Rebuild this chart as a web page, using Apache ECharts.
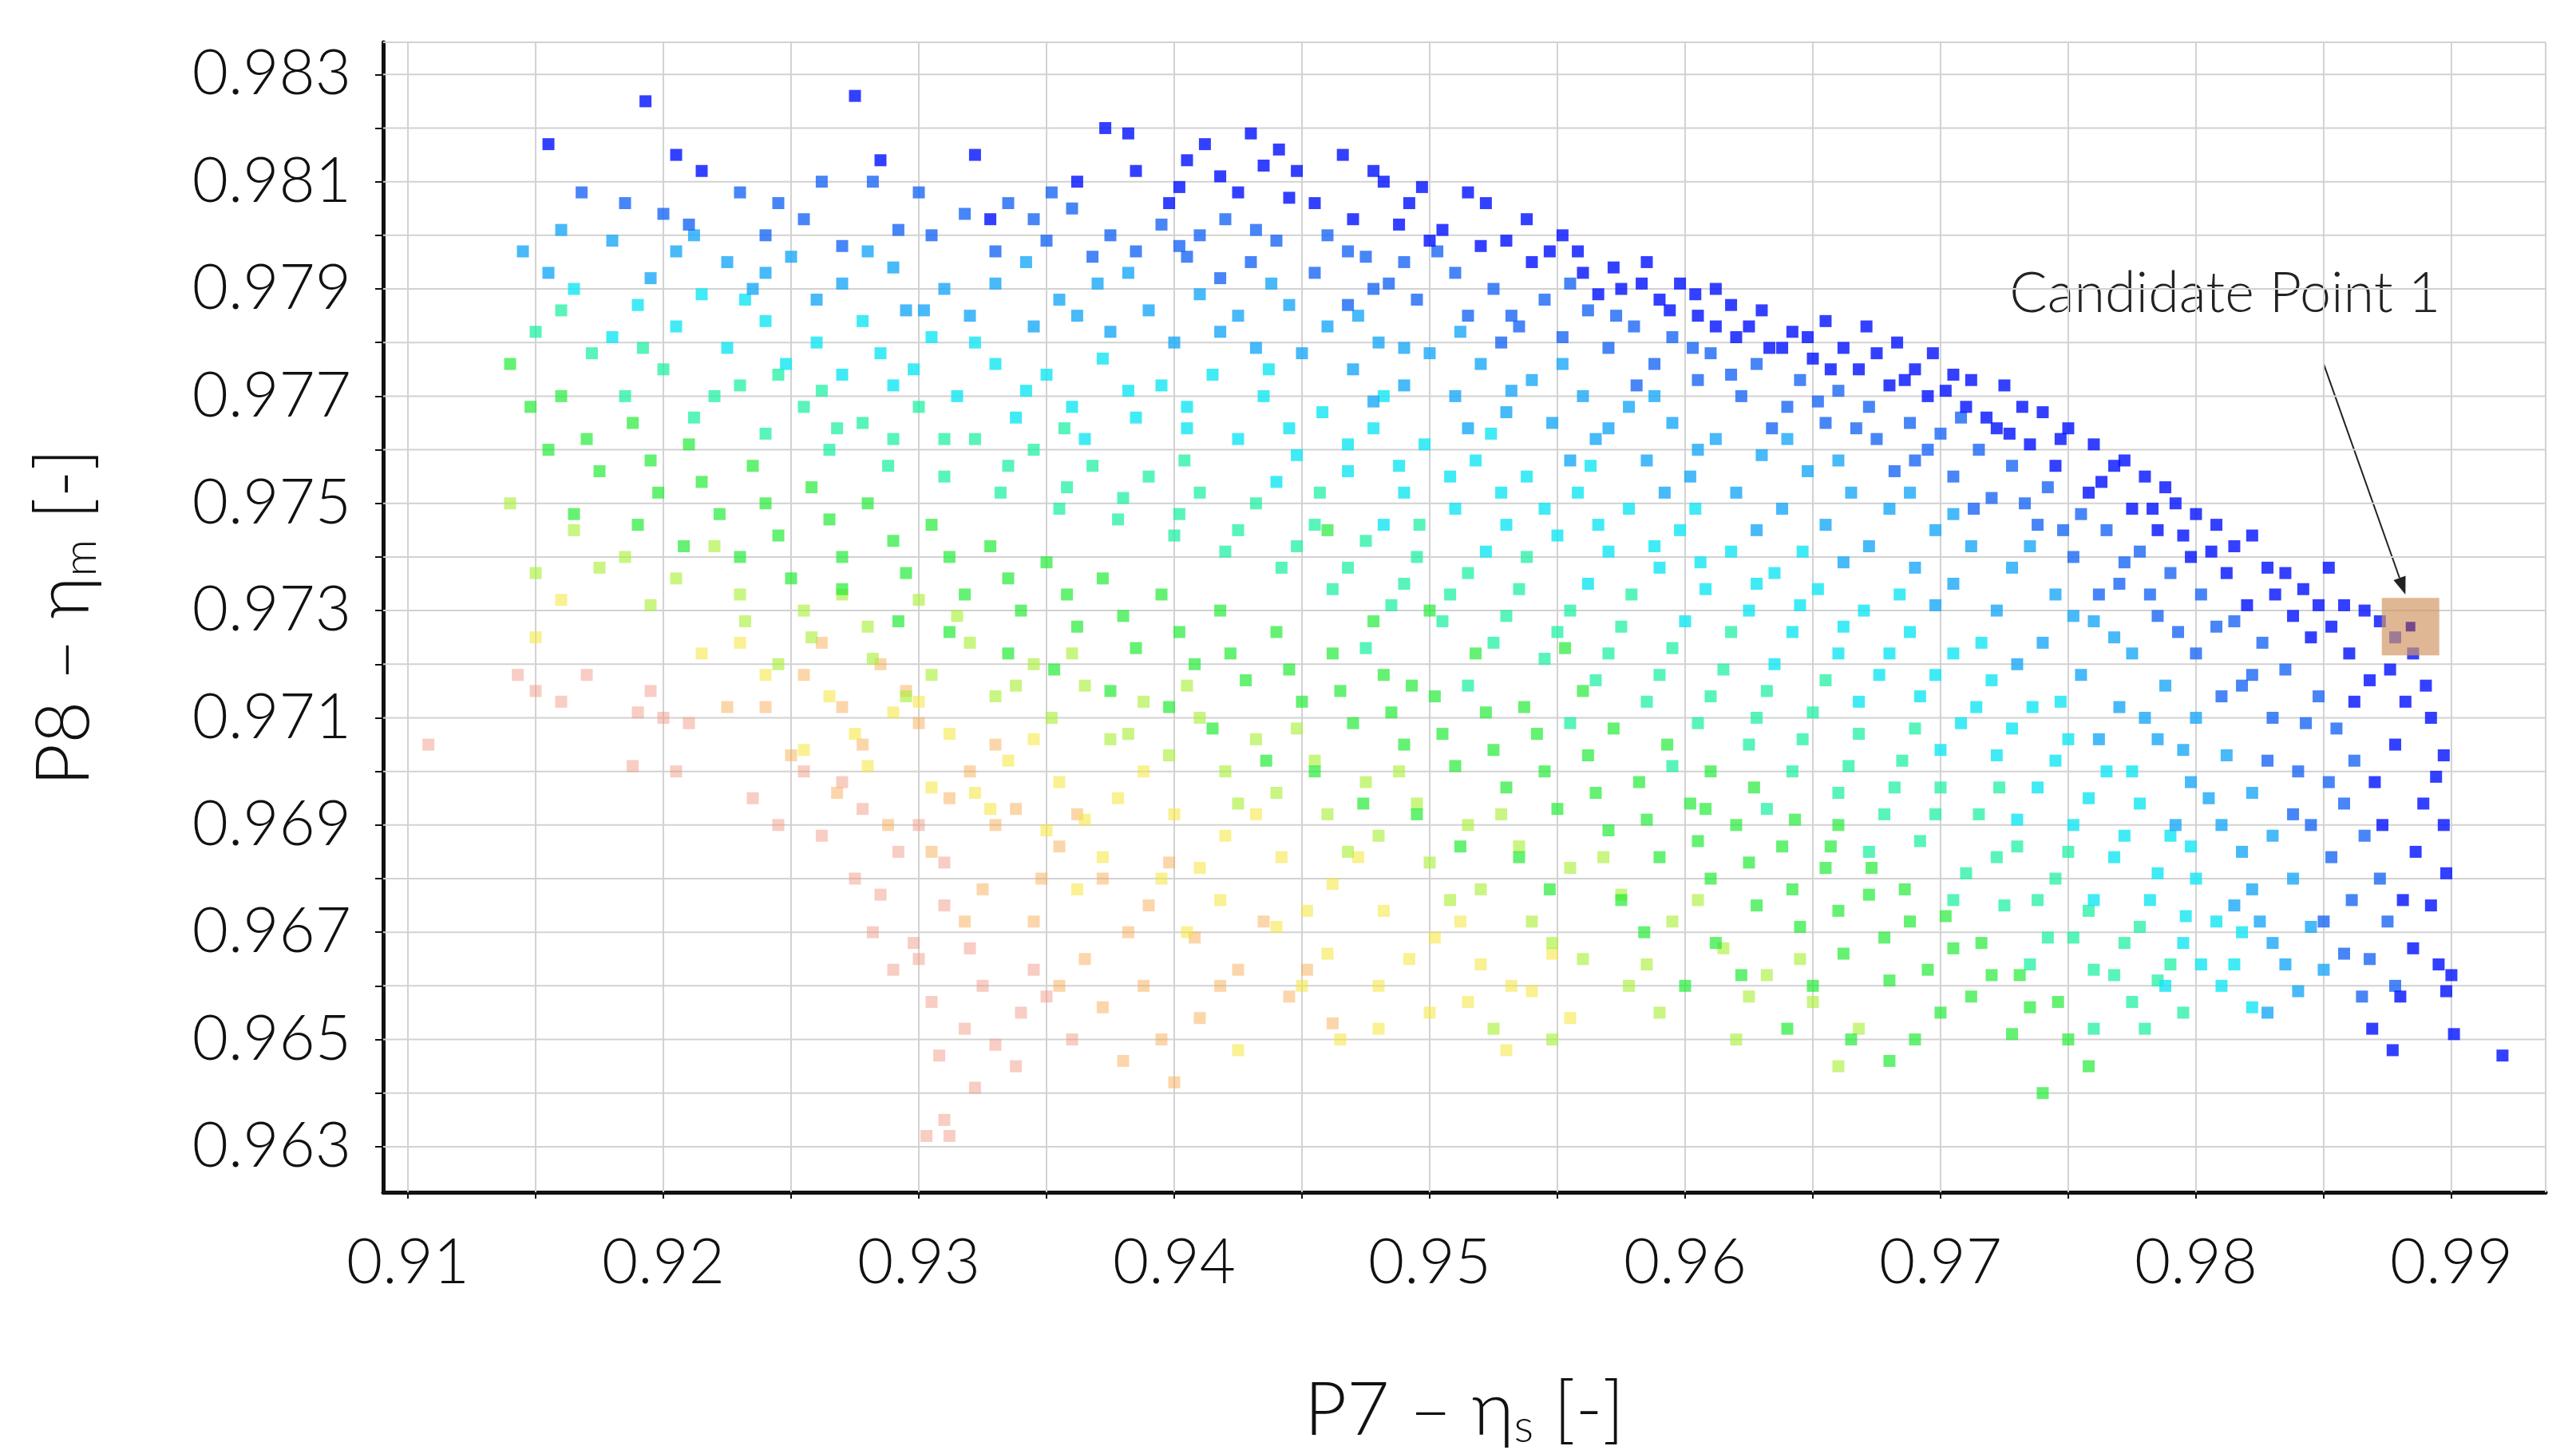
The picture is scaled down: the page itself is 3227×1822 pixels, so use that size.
<!DOCTYPE html>
<html><head><meta charset="utf-8">
<script src="https://cdn.jsdelivr.net/npm/echarts@6/dist/echarts.min.js"></script>
<style>html,body{margin:0;padding:0;background:#fff}#c{width:3227px;height:1822px}</style>
</head><body><div id="c"></div>
<script>
const xTicks=[0.91,0.92,0.93,0.94,0.95,0.96,0.97,0.98,0.99];
const yTicks=[0.963,0.965,0.967,0.969,0.971,0.973,0.975,0.977,0.979,0.981,0.983];
const xGrid=[0.91,0.915,0.92,0.925,0.93,0.935,0.94,0.945,0.95,0.955,0.96,0.965,0.97,0.975,0.98,0.985,0.99,0.99369];
const yGrid=[0.963,0.964,0.965,0.966,0.967,0.968,0.969,0.97,0.971,0.972,0.973,0.974,0.975,0.976,0.977,0.978,0.979,0.98,0.981,0.982,0.983,0.9836];
const X_MIN=0.90903,X_MAX=0.99369,Y_MIN=0.96215,Y_MAX=0.9836;
const candidate=[[0.9884,0.9727]];
const darkBlue=[[0.9155,0.9817],[0.9193,0.9825],[0.9205,0.9815],[0.9275,0.9826],[0.9215,0.9812],[0.9285,0.9814],[0.9322,0.9815],[0.9373,0.9820],[0.9382,0.9819],[0.9430,0.9819],[0.9385,0.9812],[0.9405,0.9814],[0.9418,0.9811],[0.9435,0.9813],[0.9448,0.9812],[0.9478,0.9812],[0.9482,0.9810],[0.9455,0.9806],[0.9492,0.9806],[0.9505,0.9801],[0.9522,0.9806],[0.9488,0.9802],[0.9530,0.9799],[0.9552,0.9800],[0.9558,0.9797],[0.9572,0.9794],[0.9585,0.9795],[0.9598,0.9791],[0.9604,0.9789],[0.9612,0.9790],[0.9618,0.9787],[0.9625,0.9783],[0.9630,0.9786],[0.9642,0.9782],[0.9648,0.9781],[0.9655,0.9784],[0.9662,0.9779],[0.9675,0.9778],[0.9683,0.9780],[0.9690,0.9775],[0.9705,0.9774],[0.9702,0.9771],[0.9712,0.9773],[0.9725,0.9772],[0.9732,0.9768],[0.9740,0.9767],[0.9750,0.9764],[0.9760,0.9761],[0.9768,0.9757],[0.9772,0.9758],[0.9780,0.9755],[0.9788,0.9753],[0.9792,0.9750],[0.9800,0.9748],[0.9808,0.9746],[0.9815,0.9742],[0.9822,0.9744],[0.9828,0.9738],[0.9835,0.9737],[0.9842,0.9734],[0.9852,0.9738],[0.9858,0.9731],[0.9866,0.9730],[0.9872,0.9728],[0.9878,0.9725],[0.9885,0.9722],[0.9890,0.9716],[0.9892,0.9710],[0.9897,0.9703],[0.9894,0.9699],[0.9897,0.9690],[0.9898,0.9681],[0.9892,0.9675],[0.9895,0.9664],[0.9900,0.9662],[0.9898,0.9659],[0.9901,0.9651],[0.9920,0.9647],[0.9880,0.9658],[0.9885,0.9667],[0.9870,0.9698],[0.9878,0.9705],[0.9882,0.9713],[0.9868,0.9717],[0.9860,0.9722],[0.9845,0.9725],[0.9838,0.9729],[0.9820,0.9731],[0.9812,0.9737],[0.9798,0.9740],[0.9785,0.9745],[0.9775,0.9749],[0.9758,0.9752],[0.9745,0.9757],[0.9735,0.9761],[0.9722,0.9764],[0.9710,0.9768],[0.9695,0.9770],[0.9680,0.9772],[0.9668,0.9775],[0.9650,0.9777],[0.9638,0.9779],[0.9620,0.9781],[0.9605,0.9785],[0.9590,0.9788],[0.9575,0.9790],[0.9560,0.9793],[0.9540,0.9795],[0.9520,0.9798],[0.9500,0.9799],[0.9470,0.9803],[0.9445,0.9807],[0.9425,0.9808],
[0.9328,0.9803],[0.9362,0.9810],[0.9398,0.9806],[0.9412,0.9817],[0.9466,0.9815],[0.9515,0.9808],[0.9538,0.9803],[0.9566,0.9789],[0.9594,0.9786],[0.9633,0.9779],[0.9671,0.9783],[0.9697,0.9778],[0.9718,0.9766],[0.9747,0.9762],[0.9783,0.9749],[0.9806,0.9741],[0.9831,0.9733],[0.9853,0.9727],[0.9876,0.9719],[0.9873,0.9690],[0.9886,0.9685],[0.9881,0.9676],[0.9889,0.9694],[0.9877,0.9648],[0.9869,0.9652],[0.9862,0.9713],[0.9848,0.9731],[0.9795,0.9744],[0.9763,0.9754],[0.9727,0.9763],[0.9686,0.9773],[0.9657,0.9775],[0.9612,0.9783],[0.9583,0.9791],[0.9547,0.9797],[0.9497,0.9809],[0.9441,0.9816],[0.9402,0.9809]];
const blue=[[0.9185,0.9806],[0.9200,0.9804],[0.9230,0.9808],[0.9245,0.9806],[0.9255,0.9803],[0.9282,0.9810],[0.9300,0.9808],[0.9318,0.9804],[0.9335,0.9806],[0.9345,0.9803],[0.9360,0.9805],[0.9375,0.9800],[0.9395,0.9802],[0.9410,0.9800],[0.9420,0.9803],[0.9440,0.9799],[0.9460,0.9800],[0.9475,0.9796],[0.9490,0.9795],[0.9510,0.9793],[0.9525,0.9790],[0.9545,0.9788],[0.9562,0.9786],[0.9580,0.9783],[0.9595,0.9781],[0.9610,0.9778],[0.9628,0.9776],[0.9645,0.9773],[0.9660,0.9771],[0.9672,0.9768],[0.9688,0.9765],[0.9700,0.9763],[0.9715,0.9760],[0.9728,0.9757],[0.9742,0.9753],[0.9755,0.9748],[0.9765,0.9745],[0.9778,0.9741],[0.9790,0.9737],[0.9802,0.9733],[0.9815,0.9728],[0.9826,0.9724],[0.9835,0.9719],[0.9848,0.9714],[0.9855,0.9708],[0.9862,0.9702],[0.9858,0.9694],[0.9866,0.9688],[0.9872,0.9680],[0.9875,0.9672],[0.9868,0.9665],[0.9878,0.9660],[0.9865,0.9658],[0.9850,0.9672],[0.9845,0.9690],[0.9840,0.9700],[0.9830,0.9710],[0.9818,0.9716],[0.9800,0.9722],[0.9785,0.9729],[0.9770,0.9735],[0.9752,0.9740],[0.9738,0.9746],[0.9720,0.9751],[0.9705,0.9755],[0.9690,0.9758],[0.9675,0.9762],[0.9655,0.9765],[0.9640,0.9768],[0.9622,0.9770],[0.9605,0.9773],[0.9588,0.9776],[0.9570,0.9779],[0.9552,0.9781],[0.9535,0.9783],[0.9515,0.9785],[0.9495,0.9788],[0.9478,0.9790],[0.9455,0.9793],[0.9430,0.9795],[0.9405,0.9796],[0.9385,0.9797],[0.9350,0.9799],[0.9330,0.9797],[0.9305,0.9800],[0.9270,0.9798],[0.9240,0.9800],[0.9210,0.9802],
[0.9168,0.9808],[0.9262,0.9810],[0.9292,0.9801],[0.9352,0.9808],[0.9368,0.9796],[0.9402,0.9798],[0.9432,0.9801],[0.9468,0.9797],[0.9484,0.9791],[0.9503,0.9797],[0.9532,0.9785],[0.9555,0.9791],[0.9573,0.9785],[0.9603,0.9779],[0.9618,0.9774],[0.9652,0.9769],[0.9667,0.9764],[0.9695,0.9760],[0.9708,0.9766],[0.9733,0.9750],[0.9748,0.9745],[0.9772,0.9739],[0.9782,0.9733],[0.9808,0.9727],[0.9822,0.9718],[0.9843,0.9709],[0.9852,0.9698],[0.9853,0.9684],[0.9861,0.9676],[0.9858,0.9666],[0.9838,0.9692],[0.9828,0.9702],[0.9810,0.9714],[0.9793,0.9726],[0.9762,0.9733],[0.9713,0.9749],[0.9682,0.9756],[0.9634,0.9764],[0.9581,0.9772],[0.9528,0.9780],[0.9468,0.9787],[0.9418,0.9792]];
const lightBlue=[[0.9145,0.9797],[0.9160,0.9801],[0.9180,0.9799],[0.9205,0.9797],[0.9225,0.9795],[0.9250,0.9796],[0.9270,0.9791],[0.9290,0.9794],[0.9310,0.9790],[0.9330,0.9791],[0.9355,0.9788],[0.9370,0.9791],[0.9390,0.9786],[0.9410,0.9789],[0.9425,0.9785],[0.9445,0.9787],[0.9460,0.9783],[0.9480,0.9780],[0.9500,0.9778],[0.9520,0.9776],[0.9540,0.9773],[0.9560,0.9770],[0.9578,0.9768],[0.9595,0.9765],[0.9612,0.9762],[0.9630,0.9759],[0.9648,0.9756],[0.9665,0.9752],[0.9680,0.9749],[0.9698,0.9745],[0.9712,0.9742],[0.9728,0.9738],[0.9745,0.9733],[0.9760,0.9728],[0.9775,0.9722],[0.9788,0.9716],[0.9800,0.9710],[0.9812,0.9703],[0.9822,0.9696],[0.9830,0.9688],[0.9838,0.9680],[0.9845,0.9671],[0.9850,0.9663],[0.9840,0.9659],[0.9830,0.9668],[0.9822,0.9678],[0.9810,0.9690],[0.9798,0.9698],[0.9785,0.9706],[0.9770,0.9712],[0.9755,0.9718],[0.9740,0.9724],[0.9722,0.9730],[0.9705,0.9735],[0.9690,0.9738],[0.9672,0.9742],[0.9655,0.9746],[0.9638,0.9749],[0.9620,0.9752],[0.9602,0.9755],[0.9585,0.9758],[0.9565,0.9762],[0.9548,0.9765],[0.9530,0.9767],[0.9510,0.9770],[0.9490,0.9772],[0.9470,0.9775],[0.9450,0.9778],[0.9432,0.9779],[0.9400,0.9780],[0.9375,0.9782],[0.9345,0.9783],[0.9320,0.9785],[0.9295,0.9786],[0.9260,0.9788],[0.9235,0.9790],[0.9195,0.9792],
[0.9155,0.9793],[0.9212,0.9800],[0.9240,0.9793],[0.9280,0.9797],[0.9302,0.9786],[0.9342,0.9795],[0.9362,0.9785],[0.9382,0.9793],[0.9418,0.9782],[0.9438,0.9791],[0.9472,0.9785],[0.9490,0.9779],[0.9512,0.9782],[0.9532,0.9771],[0.9552,0.9776],[0.9570,0.9764],[0.9588,0.9770],[0.9605,0.9760],[0.9640,0.9762],[0.9660,0.9758],[0.9688,0.9752],[0.9705,0.9748],[0.9735,0.9742],[0.9752,0.9729],[0.9768,0.9725],[0.9780,0.9710],[0.9795,0.9704],[0.9805,0.9695],[0.9818,0.9685],[0.9825,0.9672],[0.9835,0.9664],[0.9828,0.9655],[0.9815,0.9675],[0.9792,0.9690],[0.9762,0.9706],[0.9730,0.9720],[0.9698,0.9731],[0.9662,0.9739],[0.9628,0.9745],[0.9592,0.9752],[0.9555,0.9758],[0.9515,0.9764],[0.9478,0.9769]];
const cyan=[[0.9165,0.9790],[0.9190,0.9787],[0.9215,0.9789],[0.9240,0.9784],[0.9260,0.9780],[0.9285,0.9778],[0.9305,0.9781],[0.9330,0.9776],[0.9350,0.9774],[0.9372,0.9777],[0.9395,0.9772],[0.9415,0.9774],[0.9435,0.9770],[0.9458,0.9767],[0.9478,0.9764],[0.9498,0.9761],[0.9518,0.9758],[0.9538,0.9755],[0.9558,0.9752],[0.9578,0.9749],[0.9598,0.9745],[0.9618,0.9741],[0.9635,0.9737],[0.9652,0.9734],[0.9670,0.9730],[0.9688,0.9726],[0.9705,0.9722],[0.9720,0.9717],[0.9736,0.9712],[0.9750,0.9706],[0.9765,0.9700],[0.9778,0.9694],[0.9790,0.9688],[0.9800,0.9680],[0.9808,0.9672],[0.9815,0.9664],[0.9822,0.9656],[0.9810,0.9660],[0.9795,0.9668],[0.9782,0.9676],[0.9768,0.9684],[0.9752,0.9690],[0.9738,0.9697],[0.9722,0.9703],[0.9708,0.9709],[0.9692,0.9714],[0.9676,0.9718],[0.9660,0.9722],[0.9642,0.9726],[0.9625,0.9730],[0.9608,0.9734],[0.9590,0.9738],[0.9570,0.9741],[0.9550,0.9744],[0.9530,0.9746],[0.9510,0.9749],[0.9490,0.9752],[0.9468,0.9756],[0.9448,0.9759],[0.9425,0.9762],[0.9405,0.9764],[0.9385,0.9766],[0.9360,0.9768],[0.9338,0.9766],[0.9315,0.9770],[0.9290,0.9772],[0.9270,0.9774],[0.9248,0.9776],[0.9225,0.9779],[0.9180,0.9781],
[0.9205,0.9783],[0.9232,0.9788],[0.9278,0.9784],[0.9298,0.9775],[0.9322,0.9780],[0.9342,0.9771],[0.9365,0.9762],[0.9382,0.9771],[0.9405,0.9768],[0.9445,0.9764],[0.9468,0.9761],[0.9488,0.9757],[0.9508,0.9755],[0.9528,0.9752],[0.9545,0.9749],[0.9566,0.9746],[0.9588,0.9742],[0.9606,0.9739],[0.9628,0.9735],[0.9645,0.9731],[0.9662,0.9727],[0.9680,0.9722],[0.9698,0.9718],[0.9714,0.9712],[0.9728,0.9708],[0.9745,0.9702],[0.9758,0.9695],[0.9772,0.9688],[0.9785,0.9681],[0.9796,0.9673],[0.9802,0.9664],[0.9788,0.9660],[0.9760,0.9676],[0.9730,0.9691],[0.9700,0.9704],[0.9668,0.9713],[0.9635,0.9720],[0.9600,0.9728],[0.9562,0.9735],[0.9522,0.9741],[0.9482,0.9746],[0.9440,0.9754],
[0.9437,0.9775],[0.9482,0.9770],[0.9524,0.9763],[0.9563,0.9757],[0.9604,0.9749],[0.9646,0.9741],[0.9684,0.9733],[0.9716,0.9724],[0.9747,0.9713],[0.9775,0.9700],[0.9798,0.9686],[0.9818,0.9670]];
const aqua=[[0.9150,0.9782],[0.9172,0.9778],[0.9200,0.9775],[0.9230,0.9772],[0.9255,0.9768],[0.9278,0.9765],[0.9300,0.9768],[0.9322,0.9762],[0.9345,0.9760],[0.9368,0.9757],[0.9390,0.9755],[0.9410,0.9752],[0.9432,0.9750],[0.9455,0.9746],[0.9475,0.9743],[0.9495,0.9740],[0.9515,0.9737],[0.9535,0.9734],[0.9555,0.9730],[0.9575,0.9727],[0.9595,0.9723],[0.9615,0.9719],[0.9632,0.9715],[0.9650,0.9711],[0.9668,0.9707],[0.9685,0.9702],[0.9700,0.9697],[0.9715,0.9692],[0.9730,0.9686],[0.9745,0.9680],[0.9758,0.9674],[0.9772,0.9668],[0.9785,0.9661],[0.9795,0.9655],[0.9775,0.9657],[0.9760,0.9663],[0.9742,0.9669],[0.9725,0.9675],[0.9710,0.9681],[0.9692,0.9687],[0.9678,0.9692],[0.9660,0.9696],[0.9642,0.9700],[0.9625,0.9705],[0.9605,0.9709],[0.9585,0.9713],[0.9565,0.9717],[0.9545,0.9721],[0.9525,0.9724],[0.9505,0.9728],[0.9485,0.9731],[0.9462,0.9734],[0.9442,0.9738],[0.9420,0.9741],[0.9400,0.9744],[0.9378,0.9747],[0.9355,0.9749],[0.9332,0.9752],[0.9310,0.9755],[0.9288,0.9757],[0.9265,0.9760],[0.9240,0.9763],[0.9212,0.9766],[0.9185,0.9770],
[0.9160,0.9786],[0.9192,0.9779],[0.9220,0.9770],[0.9245,0.9774],[0.9268,0.9764],[0.9290,0.9762],[0.9335,0.9757],[0.9358,0.9753],[0.9380,0.9751],[0.9402,0.9748],[0.9425,0.9745],[0.9448,0.9742],[0.9468,0.9738],[0.9490,0.9735],[0.9508,0.9733],[0.9530,0.9729],[0.9550,0.9726],[0.9570,0.9722],[0.9590,0.9718],[0.9610,0.9714],[0.9628,0.9710],[0.9646,0.9706],[0.9664,0.9701],[0.9682,0.9697],[0.9698,0.9692],[0.9722,0.9684],[0.9738,0.9676],[0.9752,0.9669],[0.9768,0.9662],[0.9780,0.9652],[0.9760,0.9652],[0.9735,0.9664],[0.9705,0.9676],[0.9672,0.9685],[0.9632,0.9693],[0.9595,0.9701],[0.9555,0.9709],[0.9515,0.9716],[0.9475,0.9723],
[0.9457,0.9752],[0.9496,0.9746],[0.9538,0.9740],[0.9579,0.9733],[0.9618,0.9726],[0.9655,0.9717],[0.9690,0.9708],[0.9723,0.9697],[0.9750,0.9685],[0.9778,0.9671],[0.9790,0.9664],[0.9404,0.9758],[0.9357,0.9764],[0.9310,0.9762],[0.9262,0.9771]];
const green=[[0.9140,0.9776],[0.9160,0.9770],[0.9188,0.9765],[0.9210,0.9761],[0.9235,0.9757],[0.9258,0.9753],[0.9280,0.9750],[0.9305,0.9746],[0.9328,0.9742],[0.9350,0.9739],[0.9372,0.9736],[0.9395,0.9733],[0.9418,0.9730],[0.9440,0.9726],[0.9462,0.9722],[0.9482,0.9718],[0.9502,0.9714],[0.9522,0.9711],[0.9542,0.9707],[0.9562,0.9703],[0.9582,0.9698],[0.9602,0.9694],[0.9620,0.9690],[0.9638,0.9686],[0.9655,0.9682],[0.9672,0.9677],[0.9688,0.9672],[0.9705,0.9667],[0.9720,0.9662],[0.9735,0.9656],[0.9750,0.9650],[0.9700,0.9655],[0.9680,0.9661],[0.9662,0.9666],[0.9645,0.9671],[0.9628,0.9675],[0.9610,0.9680],[0.9590,0.9684],[0.9570,0.9689],[0.9550,0.9693],[0.9530,0.9697],[0.9510,0.9701],[0.9490,0.9705],[0.9470,0.9709],[0.9450,0.9713],[0.9428,0.9717],[0.9408,0.9720],[0.9385,0.9723],[0.9362,0.9727],[0.9340,0.9730],[0.9318,0.9733],[0.9295,0.9737],[0.9270,0.9740],[0.9245,0.9744],[0.9222,0.9748],[0.9198,0.9752],[0.9175,0.9756],[0.9155,0.9760],[0.9460,0.9745],[0.9500,0.9730],[0.9560,0.9715],[0.9610,0.9700],[0.9660,0.9690],[0.9600,0.9660],[0.9640,0.9652],[0.9680,0.9646],[0.9740,0.9640],[0.9665,0.9650],
[0.9148,0.9768],[0.9170,0.9762],[0.9195,0.9758],[0.9215,0.9754],[0.9240,0.9750],[0.9265,0.9747],[0.9290,0.9743],[0.9312,0.9740],[0.9335,0.9736],[0.9358,0.9733],[0.9380,0.9729],[0.9402,0.9726],[0.9422,0.9722],[0.9445,0.9719],[0.9465,0.9715],[0.9485,0.9711],[0.9505,0.9707],[0.9525,0.9704],[0.9545,0.9700],[0.9565,0.9696],[0.9585,0.9691],[0.9605,0.9687],[0.9625,0.9683],[0.9642,0.9678],[0.9660,0.9674],[0.9678,0.9669],[0.9695,0.9663],[0.9712,0.9658],[0.9728,0.9651],[0.9690,0.9650],[0.9650,0.9660],[0.9612,0.9668],[0.9575,0.9676],[0.9535,0.9684],[0.9495,0.9692],[0.9455,0.9700],[0.9415,0.9708],[0.9375,0.9715],[0.9335,0.9722],[0.9292,0.9728],[0.9250,0.9736],[0.9208,0.9742],[0.9165,0.9748],
[0.9478,0.9728],[0.9493,0.9716],[0.9518,0.9722],[0.9537,0.9712],[0.9553,0.9723],[0.9572,0.9708],[0.9593,0.9705],[0.9608,0.9693],[0.9627,0.9697],[0.9643,0.9691],[0.9657,0.9686],[0.9673,0.9682],[0.9686,0.9678],[0.9702,0.9673],[0.9716,0.9668],[0.9731,0.9662],[0.9746,0.9657],[0.9758,0.9645],[0.9622,0.9662],[0.9584,0.9670],[0.9547,0.9678],[0.9512,0.9686],[0.9474,0.9694],[0.9436,0.9702],[0.9398,0.9712],[0.9353,0.9719],[0.9312,0.9726],[0.9270,0.9734],[0.9230,0.9740],[0.9190,0.9746]];
const yellowGreen=[[0.9140,0.9750],[0.9165,0.9745],[0.9185,0.9740],[0.9205,0.9736],[0.9230,0.9733],[0.9255,0.9730],[0.9280,0.9727],[0.9300,0.9732],[0.9320,0.9724],[0.9345,0.9720],[0.9365,0.9716],[0.9388,0.9713],[0.9410,0.9710],[0.9432,0.9706],[0.9455,0.9702],[0.9475,0.9698],[0.9495,0.9694],[0.9515,0.9690],[0.9535,0.9686],[0.9555,0.9682],[0.9575,0.9677],[0.9595,0.9672],[0.9615,0.9667],[0.9632,0.9662],[0.9650,0.9657],[0.9668,0.9652],[0.9560,0.9665],[0.9540,0.9672],[0.9520,0.9678],[0.9500,0.9683],[0.9480,0.9688],[0.9460,0.9692],[0.9440,0.9696],[0.9420,0.9700],[0.9398,0.9703],[0.9375,0.9706],[0.9352,0.9710],[0.9330,0.9714],[0.9305,0.9718],[0.9282,0.9721],[0.9258,0.9725],[0.9232,0.9728],[0.9150,0.9737],[0.9590,0.9655],[0.9620,0.9650],[0.9525,0.9652],
[0.9175,0.9738],[0.9195,0.9731],[0.9220,0.9742],[0.9245,0.9720],[0.9270,0.9733],[0.9295,0.9714],[0.9315,0.9729],[0.9338,0.9716],[0.9360,0.9722],[0.9382,0.9707],[0.9405,0.9716],[0.9425,0.9694],[0.9448,0.9708],[0.9468,0.9685],[0.9488,0.9700],[0.9508,0.9676],[0.9528,0.9692],[0.9548,0.9668],[0.9568,0.9684],[0.9585,0.9664],[0.9605,0.9676],[0.9625,0.9658],[0.9645,0.9665],[0.9660,0.9645],[0.9548,0.9650],[0.9578,0.9660]];
const yellow=[[0.9160,0.9732],[0.9150,0.9725],[0.9215,0.9722],[0.9240,0.9718],[0.9265,0.9714],[0.9290,0.9711],[0.9312,0.9707],[0.9335,0.9702],[0.9355,0.9698],[0.9378,0.9695],[0.9400,0.9692],[0.9420,0.9688],[0.9442,0.9684],[0.9462,0.9679],[0.9482,0.9674],[0.9502,0.9669],[0.9520,0.9664],[0.9540,0.9659],[0.9555,0.9654],[0.9500,0.9655],[0.9480,0.9660],[0.9460,0.9666],[0.9440,0.9671],[0.9418,0.9676],[0.9395,0.9680],[0.9372,0.9684],[0.9350,0.9689],[0.9328,0.9693],[0.9305,0.9697],[0.9280,0.9701],[0.9255,0.9704],[0.9425,0.9648],[0.9465,0.9650],[0.9530,0.9648],
[0.9230,0.9724],[0.9275,0.9707],[0.9300,0.9713],[0.9322,0.9696],[0.9345,0.9706],[0.9365,0.9691],[0.9388,0.9700],[0.9410,0.9682],[0.9432,0.9692],[0.9452,0.9674],[0.9472,0.9684],[0.9492,0.9665],[0.9512,0.9672],[0.9532,0.9660],[0.9548,0.9666],[0.9450,0.9660],[0.9405,0.9670],[0.9362,0.9678],[0.9480,0.9652],[0.9515,0.9657]];
const orange=[[0.9255,0.9718],[0.9270,0.9712],[0.9285,0.9720],[0.9300,0.9709],[0.9320,0.9700],[0.9338,0.9693],[0.9355,0.9686],[0.9372,0.9680],[0.9390,0.9675],[0.9408,0.9669],[0.9425,0.9663],[0.9445,0.9658],[0.9462,0.9653],[0.9410,0.9654],[0.9388,0.9660],[0.9365,0.9665],[0.9345,0.9672],[0.9325,0.9678],[0.9305,0.9685],[0.9288,0.9690],[0.9268,0.9696],[0.9250,0.9703],[0.9240,0.9712],[0.9330,0.9690],[0.9400,0.9642],[0.9380,0.9646],[0.9225,0.9712],
[0.9262,0.9724],[0.9278,0.9705],[0.9295,0.9715],[0.9312,0.9695],[0.9330,0.9705],[0.9348,0.9680],[0.9362,0.9692],[0.9382,0.9670],[0.9398,0.9683],[0.9418,0.9660],[0.9435,0.9672],[0.9452,0.9663],[0.9395,0.9650],[0.9355,0.9660],[0.9318,0.9672],[0.9372,0.9656]];
const salmon=[[0.9108,0.9705],[0.9143,0.9718],[0.9150,0.9715],[0.9170,0.9718],[0.9190,0.9711],[0.9200,0.9710],[0.9210,0.9709],[0.9188,0.9701],[0.9205,0.9700],[0.9245,0.9690],[0.9255,0.9700],[0.9270,0.9698],[0.9285,0.9677],[0.9292,0.9685],[0.9300,0.9690],[0.9310,0.9683],[0.9282,0.9670],[0.9298,0.9668],[0.9310,0.9675],[0.9320,0.9667],[0.9305,0.9657],[0.9325,0.9660],[0.9340,0.9655],[0.9330,0.9649],[0.9345,0.9663],[0.9360,0.9650],[0.9303,0.9632],[0.9312,0.9632],[0.9310,0.9635],[0.9300,0.9665],[0.9275,0.9680],
[0.9160,0.9713],[0.9195,0.9715],[0.9235,0.9695],[0.9262,0.9688],[0.9278,0.9693],[0.9290,0.9663],[0.9318,0.9652],[0.9338,0.9645],[0.9350,0.9658],[0.9322,0.9641],[0.9308,0.9647]];

const FONT='Lato';
const bands=[
 [salmon,'rgba(240,150,130,0.6)'],[orange,'rgba(248,170,80,0.6)'],[yellow,'rgba(245,230,60,0.7)'],
 [yellowGreen,'rgba(170,240,60,0.8)'],[green,'rgba(30,235,50,0.85)'],[aqua,'rgba(25,240,160,0.9)'],[cyan,'#12e6f2'],
 [lightBlue,'#1aa8f8'],[blue,'#1a66f5'],[darkBlue,'#0010ff']];
const series=[];
const gl={type:'line',symbol:'none',silent:true,animation:false,lineStyle:{color:'#d2d2d2',width:2},z:1};
xGrid.forEach(v=>series.push(Object.assign({},gl,{data:[[v,Y_MIN],[v,Y_MAX]]})));
yGrid.forEach(v=>series.push(Object.assign({},gl,{data:[[X_MIN,v],[X_MAX,v]]})));
bands.forEach(b=>series.push({type:'scatter',symbol:'rect',symbolSize:15,data:b[0],itemStyle:{color:b[1]},animation:false,z:3}));
series.push({type:'scatter',symbol:'rect',symbolSize:[72,72],data:candidate,itemStyle:{color:'rgba(210,150,100,0.85)'},animation:false,z:4});
series.push({type:'scatter',symbol:'rect',symbolSize:12,data:candidate,itemStyle:{color:'#5a2c8c'},animation:false,z:5});

const chart=echarts.init(document.getElementById('c'));
const nameStyle={fontFamily:FONT,fontSize:92,color:'#111',fontWeight:300,rich:{s:{fontFamily:FONT,fontSize:58,color:'#111',fontWeight:300,padding:[40,0,0,0]}}};
chart.setOption({
 backgroundColor:'#fff',animation:false,
 grid:{left:480,top:53,right:38,bottom:299},
 xAxis:{type:'value',min:X_MIN,max:X_MAX,
  name:'P7 – η{s|s} [-]',nameLocation:'middle',nameGap:225,nameTextStyle:nameStyle,
  axisLine:{onZero:false,lineStyle:{color:'#111',width:5}},splitLine:{show:false},
  axisTick:{show:true,customValues:xGrid.slice(0,17),length:8,lineStyle:{color:'#111',width:2}},
  axisLabel:{customValues:xTicks,margin:50,fontFamily:FONT,fontSize:78,color:'#111',fontWeight:300,formatter:v=>String(+(+v).toFixed(2))}},
 yAxis:{type:'value',min:Y_MIN,max:Y_MAX,
  name:'P8 – η{s|m} [-]',nameLocation:'middle',nameGap:350,nameTextStyle:nameStyle,
  axisLine:{onZero:false,lineStyle:{color:'#111',width:5}},splitLine:{show:false},
  axisTick:{show:true,customValues:yGrid.slice(0,21),length:10,lineStyle:{color:'#111',width:2}},
  axisLabel:{customValues:yTicks,margin:40,fontFamily:FONT,fontSize:78,color:'#111',fontWeight:300,formatter:v=>(+v).toFixed(3)}},
 series:series
});
const tip=chart.convertToPixel({gridIndex:0},[0.9882,0.9733]);
const tail=chart.convertToPixel({gridIndex:0},[0.9850,0.9776]);
const lab=chart.convertToPixel({gridIndex:0},[0.9727,0.9789]);
const ang=Math.atan2(tip[1]-tail[1],tip[0]-tail[0]);
const ah=22,aw=8;
chart.setOption({graphic:[
 {type:'rect',shape:{x:lab[0]-20,y:lab[1]-55,width:640,height:110},style:{fill:'#fff'}},
 {type:'text',x:lab[0],y:lab[1],style:{text:'Candidate Point 1',font:'300 70px Lato',fill:'#222',textVerticalAlign:'middle'}},
 {type:'line',shape:{x1:tail[0],y1:tail[1],x2:tip[0]-ah*Math.cos(ang),y2:tip[1]-ah*Math.sin(ang)},style:{stroke:'#222',lineWidth:2}},
 {type:'polygon',shape:{points:[[tip[0],tip[1]],
   [tip[0]-ah*Math.cos(ang)+aw*Math.sin(ang),tip[1]-ah*Math.sin(ang)-aw*Math.cos(ang)],
   [tip[0]-ah*Math.cos(ang)-aw*Math.sin(ang),tip[1]-ah*Math.sin(ang)+aw*Math.cos(ang)]]},style:{fill:'#222'}}
]});
</script></body></html>
